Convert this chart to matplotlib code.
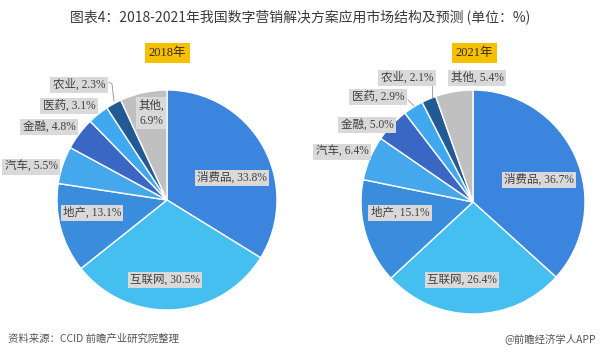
import matplotlib
matplotlib.use("Agg")
import matplotlib.pyplot as plt

plt.rcParams["font.family"] = ["Noto Sans CJK SC", "DejaVu Sans"]

# ---------------------------------------------------------------- data
categories = ["消费品", "互联网", "地产", "汽车", "金融", "医药", "农业", "其他"]
share_2018 = [33.8, 30.5, 13.1, 5.5, 4.8, 3.1, 2.3, 6.9]
share_2021 = [36.7, 26.4, 15.1, 6.4, 5.0, 2.9, 2.1, 5.4]
years = ["2018年", "2021年"]

colors = ["#3c85de", "#45bff0", "#3a8ddc", "#45a7ec",
          "#3a66c4", "#40a8ef", "#225a96", "#c0c0c0"]

W, H = 600, 358
LABEL_FONT = ["Liberation Serif", "Noto Sans CJK SC"]

# pie centre / radius in pixels, label centres in pixels
pies = [
    dict(cx=167, cy=200, r=110, values=share_2018, year_x=167,
         labels={"消费品": (232, 178), "互联网": (165, 280), "地产": (92, 213),
                 "汽车": (31, 167), "金融": (49, 127), "医药": (69, 106),
                 "农业": (79, 85), "其他": (151, 113)},
         two_line={"其他"}, leaders={"农业": [(109, 82), (112, 84), (114, 101)]}),
    dict(cx=473, cy=202, r=112, values=share_2021, year_x=474,
         labels={"消费品": (539, 180), "互联网": (462, 280), "地产": (400, 213),
                 "汽车": (342, 152), "金融": (367, 125), "医药": (378, 97),
                 "农业": (407, 78), "其他": (477, 78)},
         two_line=set(),
         leaders={"农业": [(432, 86), (432, 97)], "医药": [(408, 100), (414, 106)]}),
]

fig = plt.figure(figsize=(W / 100, H / 100), dpi=100)
fig.patch.set_facecolor("white")

fig.text(0.5, 1 - 17 / H, "图表4：2018-2021年我国数字营销解决方案应用市场结构及预测 (单位：%)",
         ha="center", va="center", fontsize=10, color="#3a3a3a")

for p, year in zip(pies, years):
    cx, cy, r = p["cx"], p["cy"], p["r"]
    ax = fig.add_axes([(cx - r) / W, (H - cy - r) / H, 2 * r / W, 2 * r / H])
    ax.pie(p["values"], colors=colors, startangle=90, counterclock=False,
           wedgeprops=dict(edgecolor="white", linewidth=1.0))
    ax.set_xlim(-1, 1)
    ax.set_ylim(-1, 1)
    ax.set_aspect("equal")
    ax.axis("off")

    for cat, val in zip(categories, p["values"]):
        lx, ly = p["labels"][cat]
        sep = ",\n" if cat in p["two_line"] else ", "
        fig.text(lx / W, 1 - ly / H, f"{cat}{sep}{val}%", ha="center", va="center",
                 fontsize=8.3, color="#404040", family=LABEL_FONT, linespacing=1.4,
                 bbox=dict(boxstyle="square,pad=0.2", facecolor="#d9d9d9", edgecolor="none"))

    for cat, pts in p["leaders"].items():
        xs = [x / W for x, _ in pts]
        ys = [1 - y / H for _, y in pts]
        fig.add_artist(plt.Line2D(xs, ys, color="#a0a0a0", lw=0.7))

    fig.text(p["year_x"] / W, 1 - 53 / H, year, ha="center", va="center",
             fontsize=9, color="#3a2a00", family=LABEL_FONT,
             bbox=dict(boxstyle="square,pad=0.3", facecolor="#f5c000", edgecolor="none"))

fig.text(8 / W, 1 - 339 / H, "资料来源：CCID 前瞻产业研究院整理", ha="left", va="center",
         fontsize=7.5, color="#555555", style="italic")
fig.text(596 / W, 1 - 339 / H, "@前瞻经济学人APP", ha="right", va="center",
         fontsize=7.5, color="#555555")

fig.savefig("out.png", dpi=100, facecolor="white")
